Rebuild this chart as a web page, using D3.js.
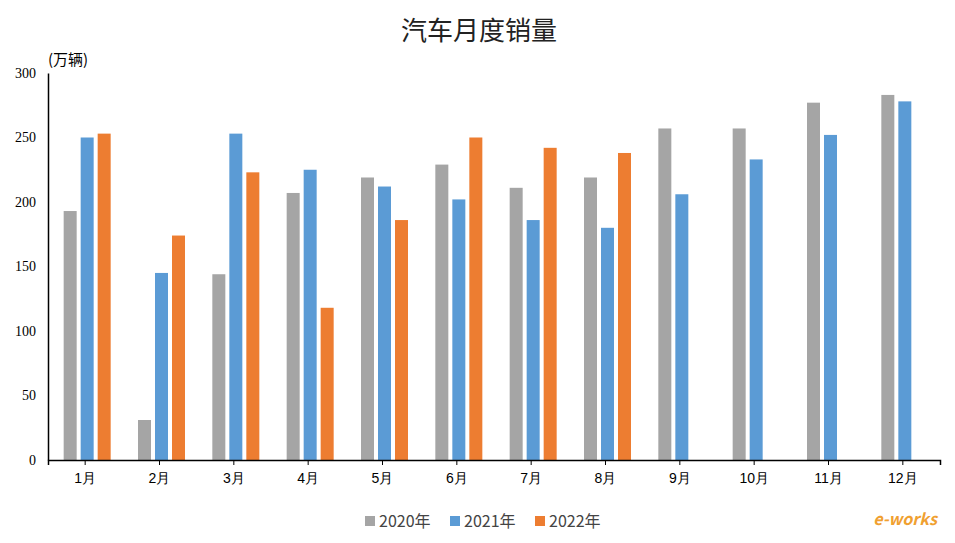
<!DOCTYPE html>
<html><head><meta charset="utf-8">
<script src="https://cdn.jsdelivr.net/npm/d3@7"></script>
<style>body{margin:0;background:#fff}svg{font-family:"Noto Sans CJK SC","DejaVu Sans",sans-serif}</style>
</head><body>
<svg id="c" width="955" height="543"></svg>
<script>
const months=["1月","2月","3月","4月","5月","6月","7月","8月","9月","10月","11月","12月"];
const s2020=[193,31,144,207,219,229,211,219,257,257,277,283];
const s2021=[250,145,253,225,212,202,186,180,206,233,252,278];
const s2022=[253,174,223,118,186,250,242,238,null,null,null,null];
const seriesNames=["2020年","2021年","2022年"];
const colors=["#a5a5a5","#5b9bd5","#ed7d31"];
const yTicks=[0,50,100,150,200,250,300];
const series=[s2020,s2021,s2022];
const svg=d3.select("#c");
const L=48,R=940,T=73,B=460;
const x=d3.scaleBand().domain(months).range([L,R]);
const y=d3.scaleLinear().domain([0,300]).range([B,T]);
const bw=13,gap=4;
series.forEach((s,i)=>{
  svg.append("g").selectAll("rect").data(s.map((v,j)=>({v,m:months[j]})).filter(d=>d.v!=null))
   .join("rect").attr("x",d=>x(d.m)+x.bandwidth()/2-bw*1.5-gap+2+i*(bw+gap)).attr("width",bw)
   .attr("y",d=>y(d.v)).attr("height",d=>B-y(d.v)).attr("fill",colors[i]);
});
const ya=svg.append("g").attr("transform",`translate(${L},0)`).call(d3.axisLeft(y).tickValues(yTicks).tickSize(0).tickPadding(12));
ya.select(".domain").attr("stroke","#000").attr("stroke-width",1.5);
ya.selectAll("text").attr("font-size",14).attr("fill","#000").attr("font-family","Liberation Serif,serif");
const xa=svg.append("g").attr("transform",`translate(0,${B})`).call(d3.axisBottom(x).tickSize(5).tickPadding(8));
xa.select(".domain").attr("stroke","#000").attr("stroke-width",1.5);
xa.selectAll("line").attr("stroke","#000");
xa.selectAll("text").attr("font-size",14).attr("fill","#000");
svg.append("text").attr("x",479).attr("y",40).attr("text-anchor","middle").attr("font-size",26).attr("fill","#222").text("汽车月度销量");
svg.append("text").attr("x",48).attr("y",65).attr("font-size",15).attr("fill","#000").text("(万辆)");
const lg=svg.append("g");
seriesNames.forEach((n,i)=>{
  const lx=365+i*85;
  lg.append("rect").attr("x",lx).attr("y",516).attr("width",10).attr("height",10).attr("fill",colors[i]);
  lg.append("text").attr("x",lx+14).attr("y",527).attr("font-size",16).attr("fill","#444").text(n);
});
svg.append("text").attr("x",905).attr("y",525).attr("text-anchor","middle").attr("font-size",16).attr("font-style","italic").attr("font-weight","bold").attr("fill","#f0a030").text("e-works");
</script>
</body></html>
